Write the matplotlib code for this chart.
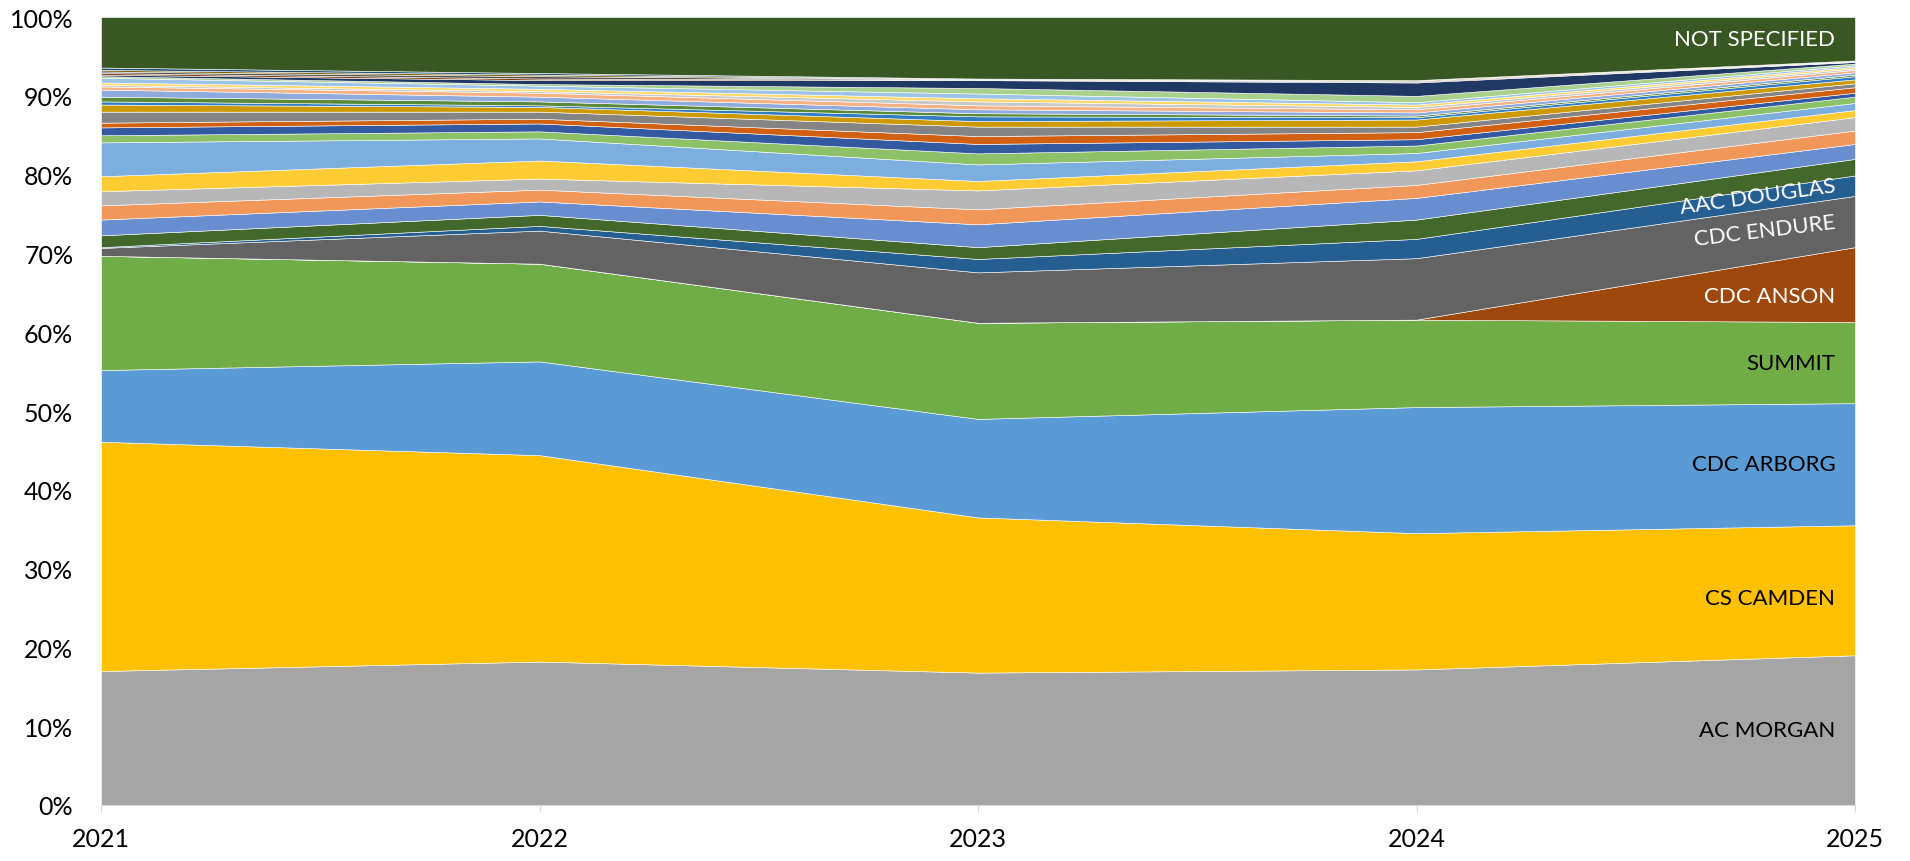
import numpy as np
import matplotlib.pyplot as plt

plt.rcParams['font.family'] = ['Lato', 'DejaVu Sans']

years = [2021, 2022, 2023, 2024, 2025]

# shares (%), bottom of the stack first
ac_morgan = [17.0, 18.2, 16.8, 17.2, 19.0]
cs_camden = [29.1, 26.2, 19.7, 17.3, 16.5]
cdc_arborg = [9.1, 11.9, 12.5, 16.0, 15.5]
summit = [14.5, 12.4, 12.2, 11.1, 10.3]
cdc_anson = [0.0, 0.0, 0.0, 0.0, 9.5]
cdc_endure = [1.0, 4.2, 6.4, 7.8, 6.5]
aac_douglas = [0.1, 0.6, 1.7, 2.45, 2.6]
# unlabelled varieties between AAC DOUGLAS and NOT SPECIFIED
others = [
    [1.5, 1.4, 1.5, 2.45, 2.1],
    [2.0, 1.7, 2.9, 2.75, 1.9],
    [1.8, 1.5, 1.9, 1.65, 1.7],
    [1.8, 1.4, 2.4, 1.85, 1.7],
    [1.9, 2.3, 1.2, 1.15, 0.9],
    [4.3, 2.8, 2.1, 1.05, 0.9],
    [0.9, 0.9, 1.4, 0.95, 0.8],
    [1.0, 1.0, 1.2, 0.8, 0.5],
    [0.6, 0.6, 1.0, 0.9, 0.7],
    [1.4, 0.9, 1.2, 0.7, 0.5],
    [0.9, 0.6, 0.7, 0.9, 0.5],
    [0.4, 0.2, 0.6, 0.3, 0.4],
    [0.6, 0.5, 0.4, 0.2, 0.2],
    [0.9, 0.6, 0.5, 0.4, 0.3],
    [0.4, 0.5, 0.5, 0.4, 0.3],
    [0.2, 0.2, 0.5, 0.3, 0.2],
    [0.3, 0.3, 0.4, 0.3, 0.2],
    [0.6, 0.4, 0.6, 0.3, 0.2],
    [0.2, 0.2, 0.7, 0.8, 0.2],
    [0.2, 0.5, 1.0, 1.7, 0.2],
    [0.2, 0.2, 0.05, 0.1, 0.05],
    [0.2, 0.3, 0.05, 0.1, 0.05],
    [0.2, 0.2, 0.05, 0.1, 0.05],
    [0.3, 0.2, 0.05, 0.0, 0.05],
]
not_specified = [6.4, 7.1, 7.8, 8.0, 5.5]

named = [("AC MORGAN", ac_morgan, "#A5A5A5", "black"),
         ("CS CAMDEN", cs_camden, "#FFC000", "black"),
         ("CDC ARBORG", cdc_arborg, "#5B9BD5", "black"),
         ("SUMMIT", summit, "#70AD47", "black"),
         ("CDC ANSON", cdc_anson, "#9E480E", "white"),
         ("CDC ENDURE", cdc_endure, "#636363", "white"),
         ("AAC DOUGLAS", aac_douglas, "#255E91", "white")]
other_colors = ["#43682B", "#698ED0", "#F1975A", "#B7B7B7", "#FFCD33", "#7CAFDD",
                "#8CC168", "#335AA1", "#D26012", "#848484", "#CC9A00", "#327DC2",
                "#5A8A39", "#8FAADC", "#F4B183", "#C9C9C9", "#FFD966", "#9DC3E6",
                "#A9D18E", "#203864", "#843C0C", "#525252", "#7F6000", "#1F4E79"]

names = [n[0] for n in named] + [""] * len(others) + ["NOT SPECIFIED"]
values = np.array([n[1] for n in named] + others + [not_specified], dtype=float)
colors = [n[2] for n in named] + other_colors + ["#385723"]
shares = values / values.sum(axis=0) * 100

fig = plt.figure(figsize=(19.1, 8.62), dpi=100)
ax = fig.add_axes([0.0529, 0.065, 0.9183, 0.914])
ax.stackplot(years, shares, colors=colors, edgecolor="white", linewidth=0.4)

ax.set_xlim(2021, 2025)
ax.set_ylim(0, 100)
ax.set_xticks(years)
ax.set_yticks(range(0, 101, 10))
ax.set_yticklabels([f"{v}%" for v in range(0, 101, 10)])
ax.tick_params(axis="y", length=0, pad=20, labelsize=18)
ax.tick_params(axis="x", length=5, color="#D9D9D9", pad=11, labelsize=18)
for s in ["top", "right", "left"]:
    ax.spines[s].set_visible(False)
ax.spines["bottom"].set_color("#D9D9D9")

# labels at the right end of each named band
top = np.cumsum(shares[:, -1])
mids = top - shares[:, -1] / 2
label_style = {"AAC DOUGLAS": 8, "CDC ENDURE": 7}
nudge = {"CDC ANSON": -1.5, "CS CAMDEN": -1.0}
for i, name in enumerate(names):
    if not name:
        continue
    tcol = "white" if name == "NOT SPECIFIED" else named[i][3]
    ax.text(2025 - 0.045, mids[i] + nudge.get(name, 0), name, ha="right", va="center",
            rotation=label_style.get(name, 0), rotation_mode="anchor",
            color=tcol, fontsize=16)

fig.savefig("out.png", dpi=100)
